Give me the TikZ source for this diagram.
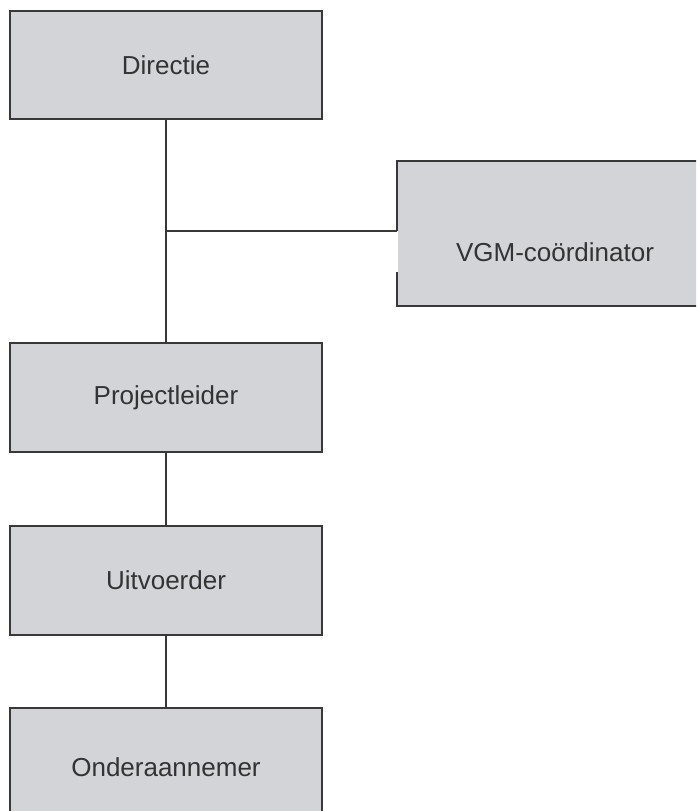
\documentclass[tikz,border=0pt]{standalone}
\usepackage{fontspec}
\setmainfont{Liberation Sans}
\definecolor{boxfill}{HTML}{D3D4D8}
\definecolor{edge}{HTML}{383838}
\definecolor{txt}{HTML}{333333}
\begin{document}
\begin{tikzpicture}[x=1pt,y=-1pt,
  orgbox/.style={draw=edge, line width=2pt, fill=boxfill, rectangle, inner sep=0pt,
    text=txt, font=\fontsize{26}{30}\selectfont},
  link/.style={draw=edge, line width=1.5pt}]
\useasboundingbox (0,0) rectangle (696,811);
\begin{scope}
\clip (0,0) rectangle (696,811);
\node[orgbox, minimum width=312pt, minimum height=108pt] (dir) at (166,65) {Directie};
\node[orgbox, draw=none, minimum width=330pt, minimum height=143pt, anchor=north west] (vgm) at (397,161) {};
\node[text=txt, font=\fontsize{26}{30}\selectfont] (vgmtxt) at (555,252) {VGM-coördinator};
\draw[edge, line width=2pt] (vgm.north east) -- (vgm.north west) -- ++(0,70);
\draw[edge, line width=2pt] ([yshift=34pt]vgm.south west) -- (vgm.south west) -- (vgm.south east);
\node[orgbox, minimum width=312pt, minimum height=109pt] (pl) at (166,397.5) {Projectleider};
\node[orgbox, minimum width=312pt, minimum height=109pt] (uit) at (166,580) {Uitvoerder};
\node[orgbox, minimum width=312pt, minimum height=118pt] (ond) at (166,767) {Onderaannemer};
\end{scope}
\coordinate (j) at (166,231);
\draw[link] (dir.south) -- (pl.north);
\draw[link] (j) -- (j -| vgm.west);
\draw[link] (pl.south) -- (uit.north);
\draw[link] (uit.south) -- (ond.north);
\end{tikzpicture}
\end{document}
